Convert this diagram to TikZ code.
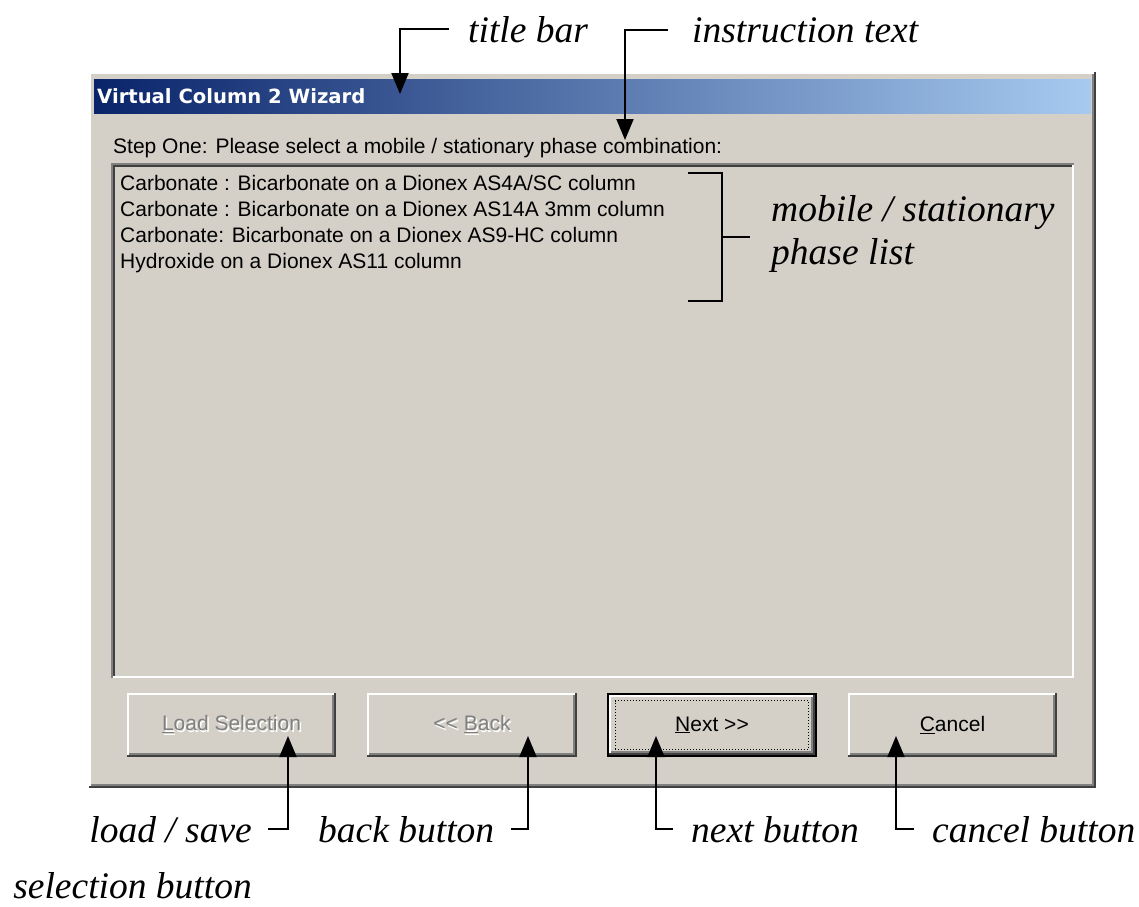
\documentclass[tikz,border=0pt]{standalone}
\usepackage{fontspec}
\setmainfont{Liberation Serif}
\newfontfamily\uifont{Liberation Sans}
\newfontfamily\captionfont{DejaVu Sans}
\usetikzlibrary{arrows.meta}

\definecolor{face}{RGB}{212,208,200}
\definecolor{shadow}{RGB}{128,128,128}
\definecolor{dkshadow}{RGB}{64,64,64}
\definecolor{tbleft}{RGB}{10,36,106}
\definecolor{tbright}{RGB}{166,202,240}

% raised 3D frame around a named node, optional inset
\newcommand\raisedframe[2][0]{%
  \draw[white, line width=2pt]
    ([shift={(#1pt+1pt,#1pt+2pt)}]#2.south west) |- ([shift={(-#1pt-2pt,-#1pt-1pt)}]#2.north east);
  \draw[dkshadow, line width=2pt]
    ([shift={(#1pt,#1pt+1pt)}]#2.south west) -| ([shift={(-#1pt-1pt,-#1pt)}]#2.north east);
  \draw[shadow, line width=2pt]
    ([shift={(#1pt+2pt,#1pt+3pt)}]#2.south west) -| ([shift={(-#1pt-3pt,-#1pt-2pt)}]#2.north east);
}
% sunken 3D frame around a named node
\newcommand\sunkenframe[1]{%
  \draw[white, line width=2pt]
    ([shift={(0pt,1pt)}]#1.south west) -| ([shift={(-1pt,0pt)}]#1.north east);
  \draw[shadow, line width=2pt]
    ([shift={(1pt,0pt)}]#1.south west) |- ([shift={(0pt,-1pt)}]#1.north east);
  \draw[dkshadow, line width=2pt]
    ([shift={(3pt,2pt)}]#1.south west) |- ([shift={(-2pt,-3pt)}]#1.north east);
}
% greyed-out (disabled) control caption
\newcommand\embossed[1]{\makebox[0pt][l]{\hspace{1.5pt}\raisebox{-1.5pt}{\color{white}#1}}{\color{shadow}#1}}

\tikzset{
  ui/.style={font=\uifont\fontsize{21}{26}\selectfont, inner sep=0pt},
  btn/.style={ui, fill=face, minimum width=209pt, minimum height=64pt},
  callout/.style={font=\itshape\fontsize{37.5}{43}\selectfont, inner sep=0pt},
  arr/.style={line width=2pt, -{Triangle[width=17pt,length=21pt]}},
  plain/.style={line width=2pt},
}

\begin{document}
\begin{tikzpicture}[x=1pt,y=-1pt]
\useasboundingbox (0,0) rectangle (1139,906);
\fill[white] (0,0) rectangle (1139,906);

% dialog window
\node[fill=face, minimum width=1007pt, minimum height=716pt, inner sep=0pt] (win) at (592.5,430) {};
\raisedframe{win}

% title bar
\shade[left color=tbleft, right color=tbright] (94,79) rectangle (1091,113);
\node[anchor=base west, text=white, font=\captionfont\bfseries\fontsize{19.6}{24}\selectfont, inner sep=0pt]
  (title) at (97,103) {Virtual Column 2 Wizard};

% instruction
\node[ui, anchor=base west] (instr) at (113,153)
  {Step One: Please select a mobile / stationary phase combination:};

% list box
\node[fill=face, minimum width=963pt, minimum height=515pt, inner sep=0pt] (list) at (592.5,420.5) {};
\sunkenframe{list}
\node[ui, anchor=base west] (item1) at (120,190) {Carbonate : Bicarbonate on a Dionex AS4A/SC column};
\node[ui, anchor=base west] (item2) at (120,216) {Carbonate : Bicarbonate on a Dionex AS14A 3mm column};
\node[ui, anchor=base west] (item3) at (120,242) {Carbonate: Bicarbonate on a Dionex AS9-HC column};
\node[ui, anchor=base west] (item4) at (120,268) {Hydroxide on a Dionex AS11 column};

% buttons
\node[btn] (btnload) at (231.5,725) {\embossed{\underline{L}oad Selection}};
\raisedframe{btnload}
\node[btn] (btnback) at (472,725) {\embossed{<< \underline{B}ack}};
\raisedframe{btnback}
\node[btn] (btnnext) at (712,725) {\underline{N}ext >>};
\draw[black, line width=2pt] ([shift={(1pt,1pt)}]btnnext.south west) rectangle ([shift={(-1pt,-1pt)}]btnnext.north east);
\raisedframe[2]{btnnext}
\draw[black, line width=1pt, dotted] ([shift={(8pt,8pt)}]btnnext.south west) rectangle ([shift={(-8pt,-8pt)}]btnnext.north east);
\node[btn] (btncancel) at (952.5,725) {\underline{C}ancel};
\raisedframe{btncancel}

% callout labels
\node[callout, anchor=base west] (lbltitle) at (468,42) {title bar};
\node[callout, anchor=base west] (lblinstr) at (692,42) {instruction text};
\node[callout, anchor=base west] (lblphase1) at (771,221) {mobile / stationary};
\node[callout, anchor=base west] (lblphase2) at (771,264) {phase list};
\node[callout, anchor=base east] (lblload) at (252,842) {load / save};
\node[callout, anchor=base east] (lblload2) at (252,898) {selection button};
\node[callout, anchor=base west] (lblback) at (318,842) {back button};
\node[callout, anchor=base west] (lblnext) at (691,842) {next button};
\node[callout, anchor=base west] (lblcancel) at (932,842) {cancel button};

% arrow tips
\coordinate (tiptitle) at (400,94);
\coordinate (tipinstr) at (625,140);
\coordinate (tipload) at (288,736);
\coordinate (tipback) at (528,736);
\coordinate (tipnext) at (656,736);
\coordinate (tipcancel) at (896,736);

% callout connectors
\draw[arr] ([xshift=-19pt]lbltitle.west) -| (tiptitle);
\draw[arr] ([xshift=-24pt]lblinstr.west) -| (tipinstr);
\draw[arr] ([xshift=16pt]lblload.east) -| (tipload);
\draw[arr] ([xshift=17pt]lblback.east) -| (tipback);
\draw[arr] ([xshift=-18pt]lblnext.west) -| (tipnext);
\draw[arr] ([xshift=-18pt]lblcancel.west) -| (tipcancel);

% bracket round the list entries
\coordinate (brkend) at (750,237);
\draw[plain] (688,173) -| (722,301) -- (688,301);
\draw[plain] (722,237) -- (brkend);
\end{tikzpicture}
\end{document}
